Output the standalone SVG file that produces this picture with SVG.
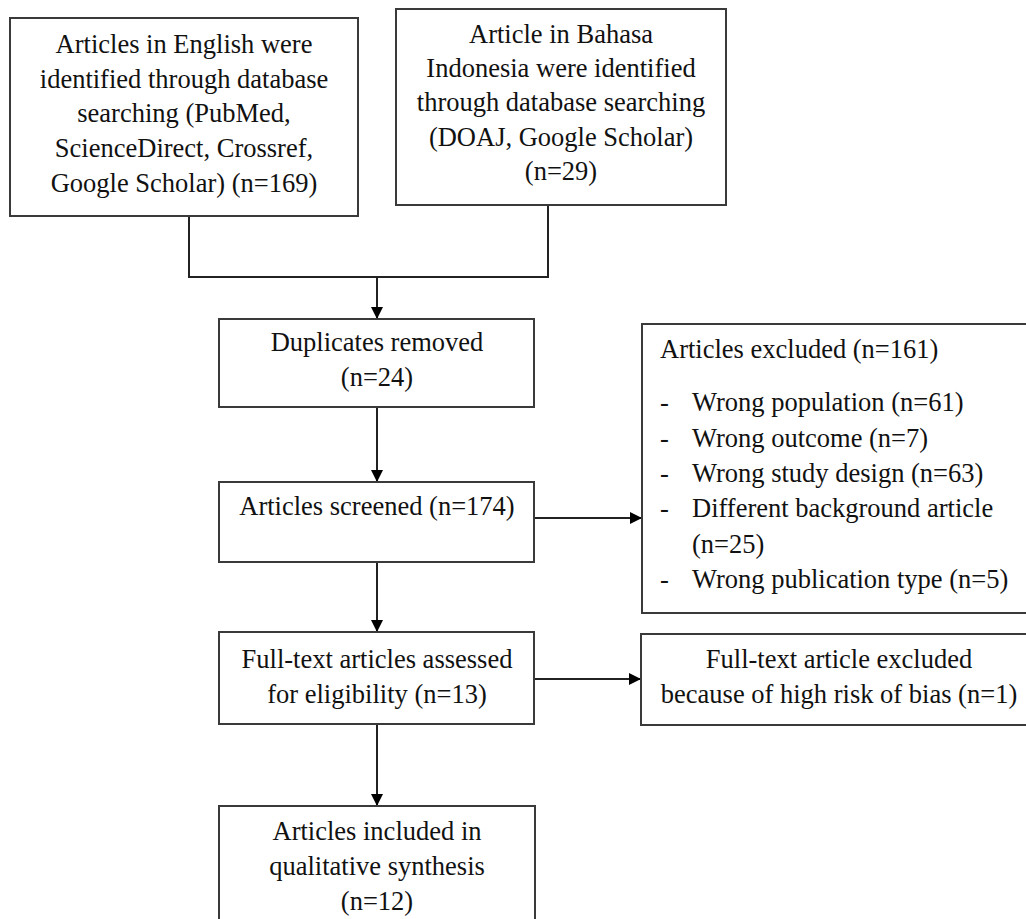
<svg xmlns="http://www.w3.org/2000/svg" width="1026" height="919" viewBox="0 0 1026 919">
<style>
.box{fill:#fff;stroke:#3a3a3a;stroke-width:2}
.t{font-family:"Liberation Serif","Times New Roman",serif;font-size:26.5px;fill:#111}
.c{text-anchor:middle}
.ln{fill:none;stroke:#222;stroke-width:2}
</style>
<defs>
<marker id="ah" markerWidth="12" markerHeight="12" refX="11" refY="6" orient="auto" markerUnits="userSpaceOnUse">
<path d="M0,0 L12,6 L0,12 Z" fill="#000"/>
</marker>
</defs>
<rect width="1026" height="919" fill="#fff"/>
<g id="connectors">
<polyline class="ln" points="189,216 189,277 548,277 548,205"/>
<line class="ln" x1="377" y1="277" x2="377" y2="318" marker-end="url(#ah)"/>
<line class="ln" x1="377" y1="407" x2="377" y2="481" marker-end="url(#ah)"/>
<line class="ln" x1="377" y1="562" x2="377" y2="631" marker-end="url(#ah)"/>
<line class="ln" x1="377" y1="724" x2="377" y2="805" marker-end="url(#ah)"/>
<line class="ln" x1="534" y1="518" x2="641" y2="518" marker-end="url(#ah)"/>
<line class="ln" x1="534" y1="679" x2="640" y2="679" marker-end="url(#ah)"/>
</g>
<g id="english">
<rect class="box" x="10" y="18" width="348" height="198"/>
<text class="t c" x="184" y="53">Articles in English were</text>
<text class="t c" x="184" y="88">identified through database</text>
<text class="t c" x="184" y="122">searching (PubMed,</text>
<text class="t c" x="184" y="157">ScienceDirect, Crossref,</text>
<text class="t c" x="184" y="192">Google Scholar) (n=169)</text>
</g>
<g id="bahasa">
<rect class="box" x="396" y="9" width="330" height="196"/>
<text class="t c" x="561" y="43">Article in Bahasa</text>
<text class="t c" x="561" y="77">Indonesia were identified</text>
<text class="t c" x="561" y="111">through database searching</text>
<text class="t c" x="561" y="146">(DOAJ, Google Scholar)</text>
<text class="t c" x="561" y="180">(n=29)</text>
</g>
<g id="duplicates">
<rect class="box" x="219" y="319" width="315" height="88"/>
<text class="t c" x="377" y="351">Duplicates removed</text>
<text class="t c" x="377" y="386">(n=24)</text>
</g>
<g id="screened">
<rect class="box" x="219" y="482" width="315" height="80"/>
<text class="t c" x="377" y="515">Articles screened (n=174)</text>
</g>
<g id="excluded">
<rect class="box" x="642" y="324" width="400" height="289"/>
<text class="t" x="660" y="358">Articles excluded (n=161)</text>
<text class="t" x="660" y="411">-</text><text class="t" x="692" y="411">Wrong population (n=61)</text>
<text class="t" x="660" y="447">-</text><text class="t" x="692" y="447">Wrong outcome (n=7)</text>
<text class="t" x="660" y="482">-</text><text class="t" x="692" y="482">Wrong study design (n=63)</text>
<text class="t" x="660" y="517">-</text><text class="t" x="692" y="517">Different background article</text>
<text class="t" x="692" y="553">(n=25)</text>
<text class="t" x="660" y="588">-</text><text class="t" x="692" y="588">Wrong publication type (n=5)</text>
</g>
<g id="fulltext">
<rect class="box" x="219" y="632" width="315" height="92"/>
<text class="t c" x="377" y="668">Full-text articles assessed</text>
<text class="t c" x="377" y="703">for eligibility (n=13)</text>
</g>
<g id="bias">
<rect class="box" x="641" y="634" width="400" height="91"/>
<text class="t c" x="839" y="668">Full-text article excluded</text>
<text class="t c" x="839" y="703">because of high risk of bias (n=1)</text>
</g>
<g id="included">
<rect class="box" x="219" y="806" width="316" height="130"/>
<text class="t c" x="377" y="840">Articles included in</text>
<text class="t c" x="377" y="875">qualitative synthesis</text>
<text class="t c" x="377" y="910">(n=12)</text>
</g>
</svg>
